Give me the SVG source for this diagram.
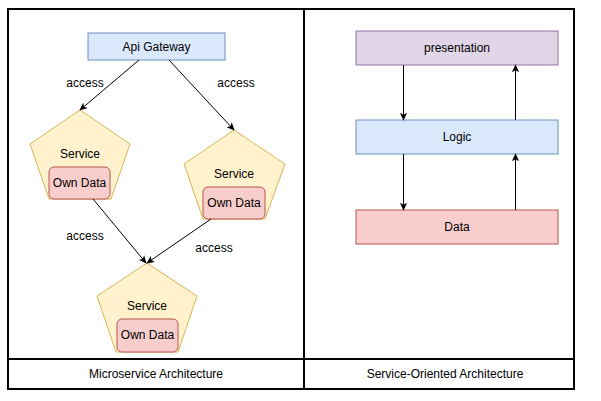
<svg xmlns="http://www.w3.org/2000/svg" width="601" height="401" viewBox="0 0 601 401">
<style>
text{font-family:"Liberation Sans",Arial,Helvetica,sans-serif;font-size:12px;fill:#000;text-anchor:middle;dominant-baseline:central}
.frame{fill:none;stroke:#000;stroke-width:2}
.pent{fill:#fff2cc;stroke:#d6b656;stroke-width:1}
.data{fill:#f8cecc;stroke:#b85450;stroke-width:1}
.blue{fill:#dae8fc;stroke:#6c8ebf;stroke-width:1}
.purple{fill:#e1d5e7;stroke:#9673a6;stroke-width:1}
.edge{fill:none;stroke:#000;stroke-width:1;marker-end:url(#arr)}
</style>
<defs>
<marker id="arr" viewBox="0 0 10 10" refX="9" refY="5" markerWidth="8" markerHeight="8" markerUnits="userSpaceOnUse" orient="auto">
<path d="M0,0.5 L10,5 L0,9.5 L2.5,5 z" fill="#000"/>
</marker>
</defs>
<rect width="601" height="401" fill="#fff"/>
<g id="frames">
<rect class="frame" x="8" y="9" width="566" height="380"/>
<line class="frame" x1="304" y1="9" x2="304" y2="389"/>
<line class="frame" x1="8" y1="359" x2="574" y2="359"/>
</g>
<g id="label-micro"><text x="156" y="374">Microservice Architecture</text></g>
<g id="label-soa"><text x="445" y="374">Service-Oriented Architecture</text></g>
<g id="api-gateway">
<rect class="blue" x="88" y="33" width="137" height="27"/>
<text x="156.5" y="46.5">Api Gateway</text>
</g>
<g id="service1">
<polygon class="pent" points="80,110 130,144 111,199 49,199 30,144"/>
<text x="80" y="154">Service</text>
<rect class="data" x="49" y="167" width="61" height="32" rx="5"/>
<text x="79.5" y="183">Own Data</text>
</g>
<g id="service2">
<polygon class="pent" points="234,130 285,164 265,219 203,219 184,164"/>
<text x="234" y="174">Service</text>
<rect class="data" x="203" y="187" width="62" height="32" rx="5"/>
<text x="234" y="203">Own Data</text>
</g>
<g id="service3">
<polygon class="pent" points="147,263 197,296 178,352 116,352 97,296"/>
<text x="147" y="306">Service</text>
<rect class="data" x="117" y="319" width="61" height="33" rx="5"/>
<text x="147.5" y="335">Own Data</text>
</g>
<g id="presentation">
<rect class="purple" x="356" y="31" width="202" height="34"/>
<text x="457" y="48">presentation</text>
</g>
<g id="logic">
<rect class="blue" x="356" y="120" width="202" height="34"/>
<text x="457" y="137">Logic</text>
</g>
<g id="data">
<rect class="data" x="356" y="210" width="202" height="34"/>
<text x="457" y="227">Data</text>
</g>
<g id="connectors">
<line class="edge" x1="139" y1="60" x2="80" y2="110"/>
<line class="edge" x1="169" y1="60" x2="234" y2="130"/>
<line class="edge" x1="93" y1="199" x2="146" y2="263"/>
<line class="edge" x1="211" y1="219" x2="147" y2="263"/>
<line class="edge" x1="403.5" y1="65" x2="403.5" y2="120"/>
<line class="edge" x1="515.5" y1="120" x2="515.5" y2="65"/>
<line class="edge" x1="403.5" y1="154" x2="403.5" y2="210"/>
<line class="edge" x1="515.5" y1="210" x2="515.5" y2="154"/>
<text x="85" y="83" style="fill:#000">access</text>
<text x="236" y="83">access</text>
<text x="85" y="236">access</text>
<text x="214" y="248">access</text>
</g>
</svg>
